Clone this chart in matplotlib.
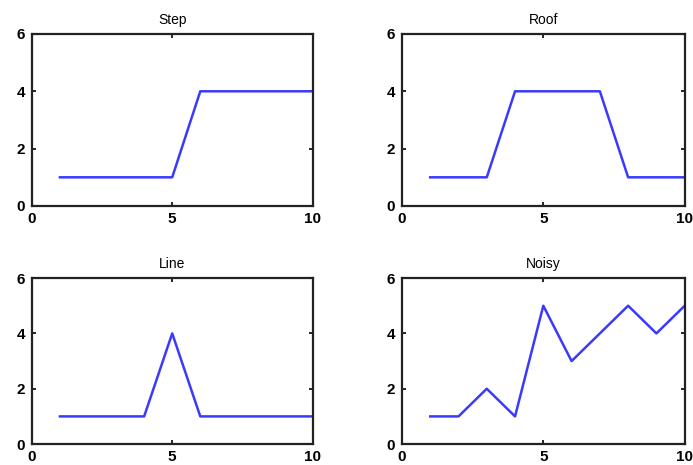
import matplotlib
matplotlib.use('Agg')
import matplotlib.pyplot as plt

x = [1, 2, 3, 4, 5, 6, 7, 8, 9, 10]
step = [1, 1, 1, 1, 1, 4, 4, 4, 4, 4]
roof = [1, 1, 1, 4, 4, 4, 4, 1, 1, 1]
line = [1, 1, 1, 1, 4, 1, 1, 1, 1, 1]
noisy = [1, 1, 2, 1, 5, 3, 4, 5, 4, 5]
titles = ['Step', 'Roof', 'Line', 'Noisy']
xticks = [0, 5, 10]
yticks = [0, 2, 4, 6]

plt.rcParams['font.family'] = ['Liberation Sans', 'DejaVu Sans']

fig = plt.figure(figsize=(6.93, 4.65), dpi=100)

# axes boxes in figure fractions (left, bottom, width, height)
boxes = [
    [0.046, 0.557, 0.405, 0.370],
    [0.580, 0.557, 0.408, 0.370],
    [0.046, 0.045, 0.405, 0.357],
    [0.580, 0.045, 0.408, 0.357],
]
series = [step, roof, line, noisy]

for box, y, t in zip(boxes, series, titles):
    ax = fig.add_axes(box)
    ax.plot(x, y, color='#3a3aff', linewidth=1.8)
    ax.set_xlim(0, 10)
    ax.set_ylim(0, 6)
    ax.set_xticks(xticks)
    ax.set_yticks(yticks)
    ax.tick_params(direction='in', length=3, width=1.2, top=True, right=True,
                   labelsize=11)
    ax.tick_params(axis='x', pad=4)
    ax.tick_params(axis='y', pad=5)
    for lab in ax.get_xticklabels() + ax.get_yticklabels():
        lab.set_fontweight('bold')
    for s in ax.spines.values():
        s.set_linewidth(1.6)
        s.set_color('#222222')
    ax.set_title(t, fontsize=10, pad=7)

fig.savefig('out.png', dpi=100)
